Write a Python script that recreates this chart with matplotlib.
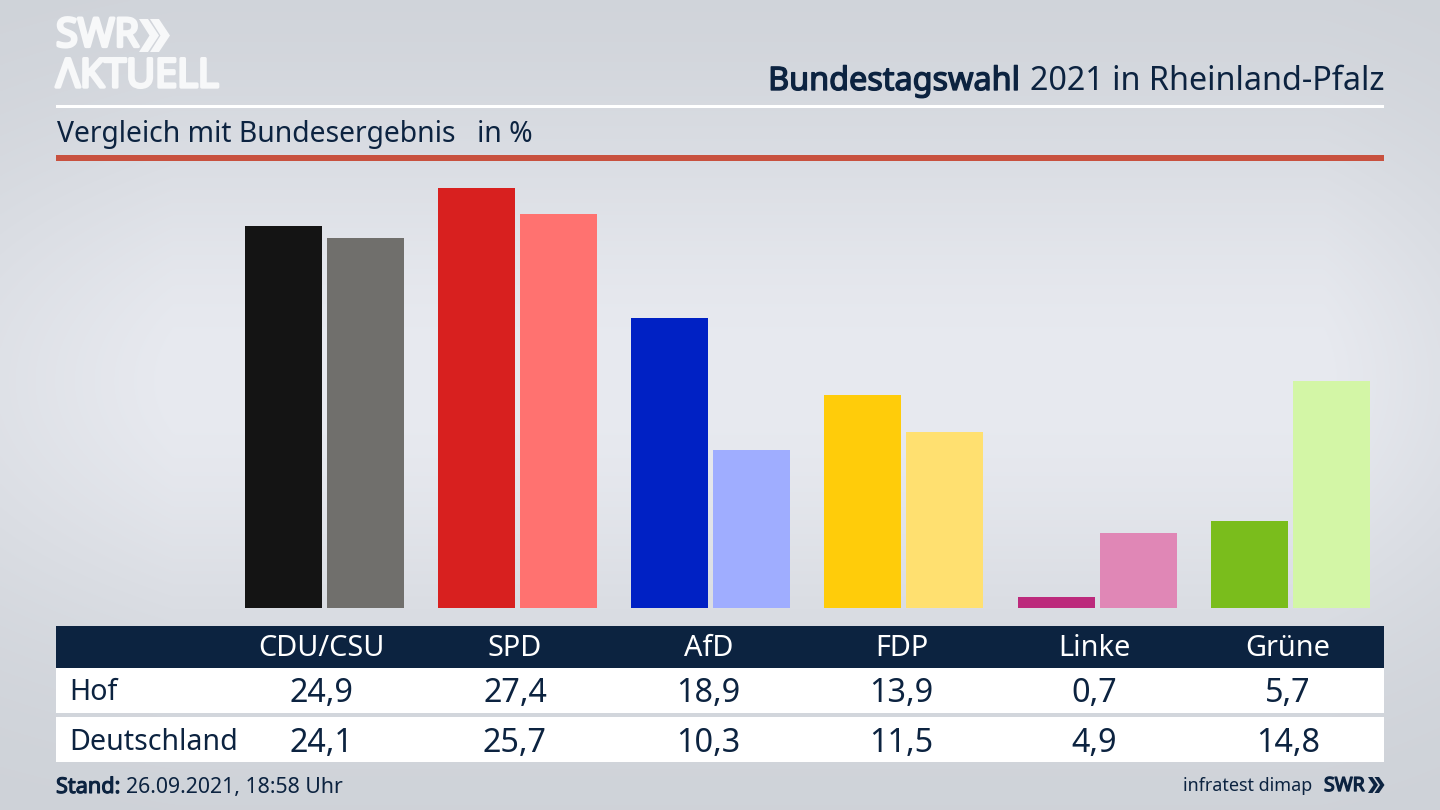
import numpy as np
import matplotlib
matplotlib.use("Agg")
import matplotlib.pyplot as plt
import matplotlib.patheffects as pe
from matplotlib.patches import Rectangle, Polygon

parties = ["CDU/CSU", "SPD", "AfD", "FDP", "Linke", "Grüne"]
hof = [24.9, 27.4, 18.9, 13.9, 0.7, 5.7]
deutschland = [24.1, 25.7, 10.3, 11.5, 4.9, 14.8]
hof_labels = ["24,9", "27,4", "18,9", "13,9", "0,7", "5,7"]
de_labels = ["24,1", "25,7", "10,3", "11,5", "4,9", "14,8"]
hof_colors = ["#141414", "#d8201f", "#0021c4", "#ffcc0a", "#bc2a7c", "#7abd1c"]
de_colors = ["#706f6c", "#ff7270", "#9fadff", "#ffe070", "#e087b6", "#d3f6a6"]

NAVY = "#0c2340"
WHITE = "#f7f8f9"
FONT = "Noto Sans"
plt.rcParams["font.family"] = [FONT, "DejaVu Sans"]

W, H = 1440, 810
fig = plt.figure(figsize=(14.4, 8.1), dpi=100)

# background gradient
bg = fig.add_axes([0, 0, 1, 1], zorder=0)
bg.axis("off")
yy = np.linspace(0, 1, 405)[:, None]
xx = np.linspace(0, 1, 720)[None, :]
v = np.exp(-((yy - 0.47) / 0.33) ** 2)
edge = np.minimum(1, xx / 0.12) * 0.35 + 0.65
edge = edge * np.minimum(1, (1 - xx) / 0.08 * 0.35 + 0.65)
shade = v * edge
c0 = np.array([0xcd, 0xd1, 0xd7]) / 255
c1 = np.array([0xe8, 0xea, 0xf0]) / 255
img = c0[None, None, :] + (c1 - c0)[None, None, :] * shade[:, :, None]
bg.imshow(img, extent=[0, W, H, 0], aspect="auto", interpolation="bilinear")
bg.set_xlim(0, W)
bg.set_ylim(H, 0)

# overlay in pixel units for decoration and table
ov = fig.add_axes([0, 0, 1, 1], zorder=1)
ov.set_xlim(0, W)
ov.set_ylim(H, 0)
ov.axis("off")
ov.patch.set_alpha(0)

def rect(x0, y0, x1, y1, color):
    ov.add_patch(Rectangle((x0, y0), x1 - x0, y1 - y0, facecolor=color, edgecolor="none"))

def bold(txt, color, lw):
    txt.set_path_effects([pe.withStroke(linewidth=lw, foreground=color)])
    return txt

rect(56, 104.5, 1384, 107.5, "white")
rect(56, 155, 1384, 160.5, "#c8513f")
rect(56, 626, 1384, 668, NAVY)
rect(56, 668, 1384, 713, "white")
rect(56, 717, 1384, 762, "white")

# logo
bold(ov.text(56, 87, "SWR\nΛKTUELL", color=WHITE, fontsize=28.6, family="Open Sans",
             va="baseline", linespacing=1.0), WHITE, 2.4)
for dx in (0, 11):
    ov.add_patch(Polygon([[139 + dx, 19], [148 + dx, 19], [159 + dx, 35.5], [148 + dx, 52], [139 + dx, 52], [149.5 + dx, 35.5]],
                         facecolor=WHITE, edgecolor="none"))

ov.text(1384, 90, "2021 in Rheinland-Pfalz", color=NAVY, fontsize=23.25, ha="right", va="baseline")
bold(ov.text(1020, 90, "Bundestagswahl", color=NAVY, fontsize=23.3, ha="right", va="baseline"), NAVY, 1.0)
ov.text(57, 142, "Vergleich mit Bundesergebnis", color=NAVY, fontsize=20.4, va="baseline")
ov.text(477, 142, "in %", color=NAVY, fontsize=20.4, va="baseline")

# bars
STEP = 193.2
X0 = 324.3
PX = 15.34
ax = fig.add_axes([56 / W, 1 - 608 / H, (1384 - 56) / W, (608 - 160) / H], zorder=2)
ax.set_xlim((56 - X0) / STEP, (1384 - X0) / STEP)
ax.set_ylim(0, 448 / PX)
ax.axis("off")
ax.patch.set_alpha(0)
pos = np.arange(len(parties))
ax.bar(pos - 0.2122, hof, width=0.398, color=hof_colors)
ax.bar(pos + 0.2122, deutschland, width=0.398, color=de_colors)

# table text
centers = X0 + pos * STEP - 2.5
for cx, p, a, b in zip(centers, parties, hof_labels, de_labels):
    ov.text(cx, 656.5, p, color="white", fontsize=20.8, ha="center", va="baseline")
    ov.text(cx, 702.5, a, color=NAVY, fontsize=23.3, ha="center", va="baseline")
    ov.text(cx, 751.5, b, color=NAVY, fontsize=23.3, ha="center", va="baseline")
ov.text(69.5, 700.5, "Hof", color=NAVY, fontsize=20.6, va="baseline")
ov.text(69.5, 749.5, "Deutschland", color=NAVY, fontsize=20.6, va="baseline")

# footer
bold(ov.text(56, 793, "Stand:", color=NAVY, fontsize=15.6, va="baseline"), NAVY, 0.8)
ov.text(126, 793, "26.09.2021, 18:58 Uhr", color=NAVY, fontsize=15.3, va="baseline")
ov.text(1312, 791, "infratest dimap", color=NAVY, fontsize=12.9, ha="right", va="baseline")
bold(ov.text(1324, 791, "SWR", color=NAVY, fontsize=14, family="Open Sans", va="baseline"), NAVY, 1.0)
for dx in (0, 6.5):
    ov.add_patch(Polygon([[1368 + dx, 777], [1372.5 + dx, 777], [1378 + dx, 785], [1372.5 + dx, 793], [1368 + dx, 793], [1373.5 + dx, 785]],
                         facecolor=NAVY, edgecolor="none"))

fig.savefig("out.png", dpi=100)
